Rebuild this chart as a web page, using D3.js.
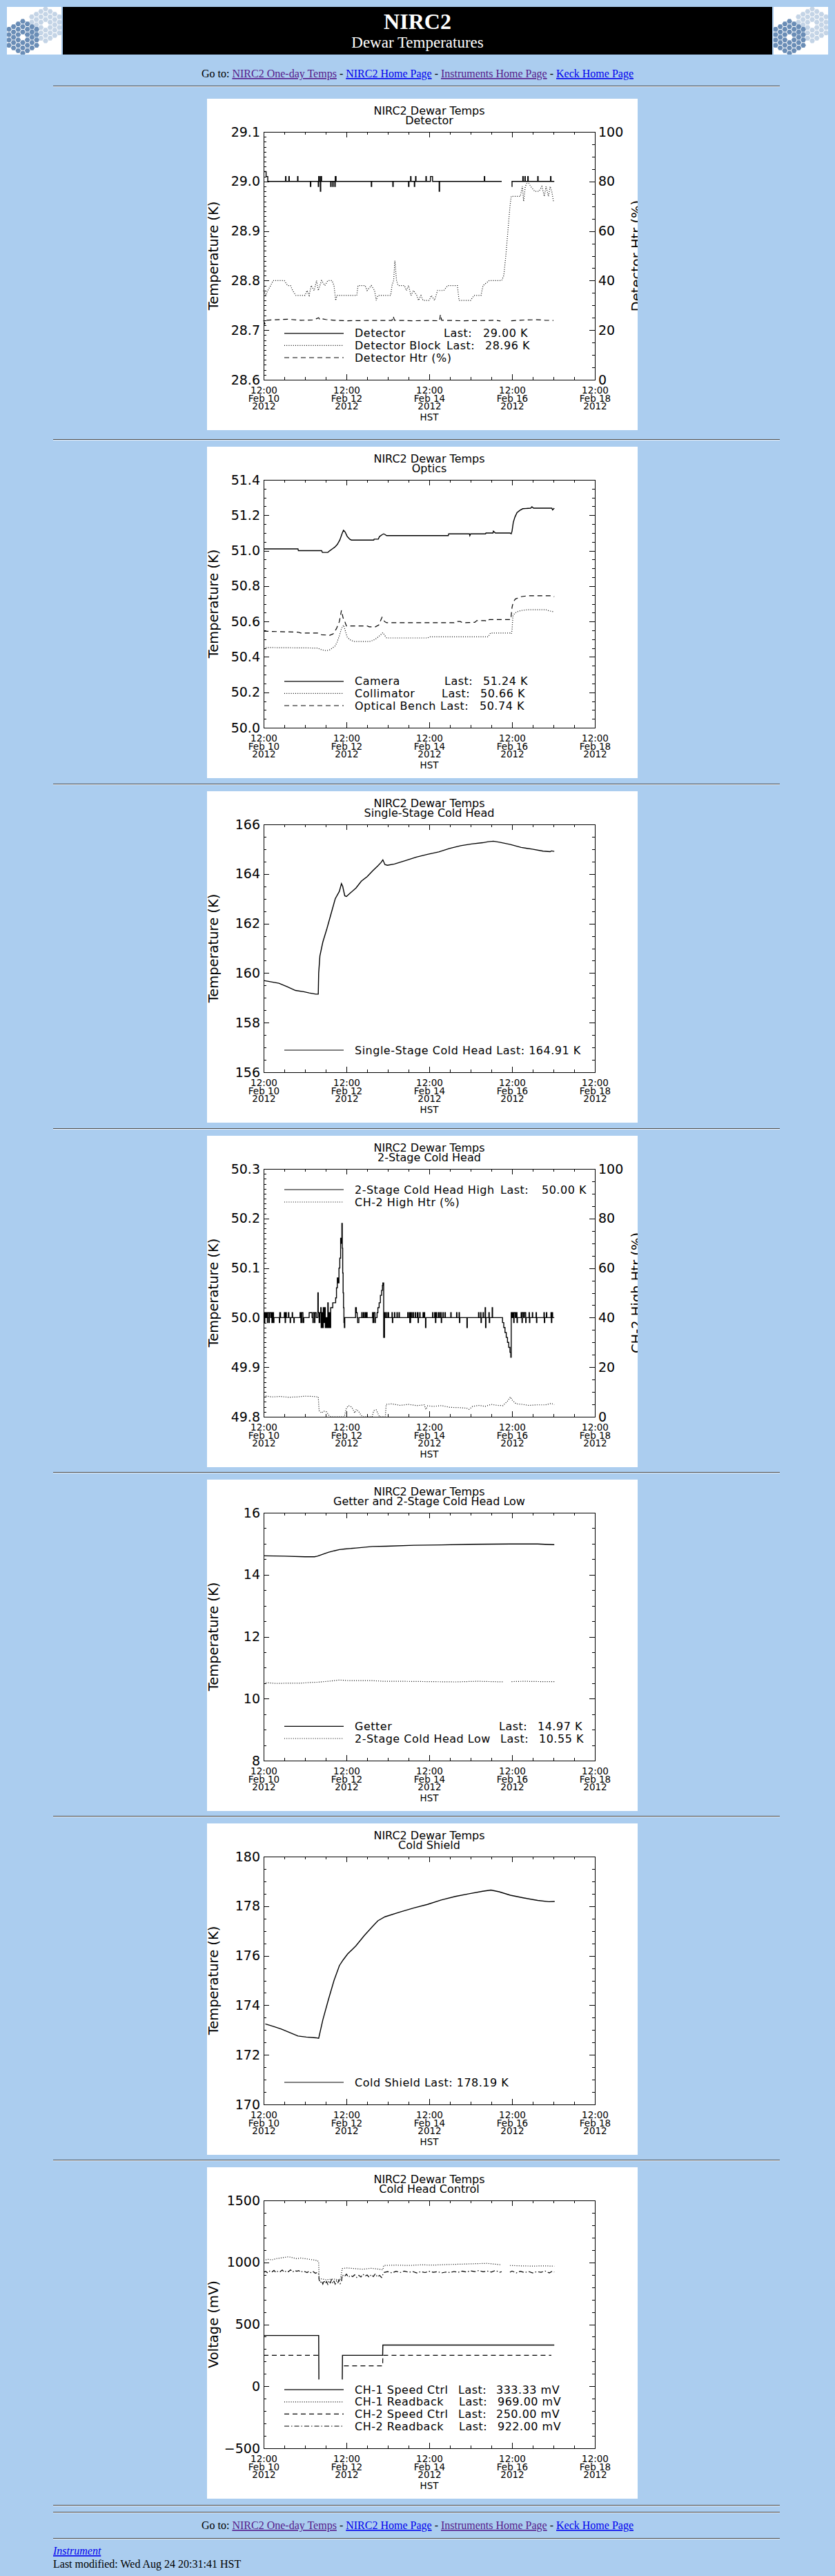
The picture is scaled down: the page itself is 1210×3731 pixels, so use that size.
<!DOCTYPE html>
<html><head><meta charset="utf-8">
<script src="https://cdn.jsdelivr.net/npm/d3@7"></script>
<style>
html,body{margin:0;padding:0;background:#abcdef;}
svg{display:block;}
</style></head><body>
<svg id="page" width="1210" height="3731"></svg>
<script>
// ---------------- DATA (time = days after 12:00 Feb 10 2012 HST) ----------------
const START = "2012-02-10T12:00:00Z";
const xMajorTicks = ["2012-02-10T12:00:00Z","2012-02-12T12:00:00Z","2012-02-14T12:00:00Z","2012-02-16T12:00:00Z","2012-02-18T12:00:00Z"];
const xAxisTitle = "HST";

const pageTitle = "NIRC2";
const pageSubtitle = "Dewar Temperatures";
const linkItems = ["NIRC2 One-day Temps","NIRC2 Home Page","Instruments Home Page","Keck Home Page"];
const linkVisited = [true,false,true,false];
const footerLink = "Instrument";
const footerModified = "Last modified: Wed Aug 24 20:31:41 HST";

const chartTitle = "NIRC2 Dewar Temps";
const panelTitles = ["Detector","Optics","Single-Stage Cold Head","2-Stage Cold Head","Getter and 2-Stage Cold Head Low","Cold Shield","Cold Head Control"];
const yLeftTitles = ["Temperature (K)","Temperature (K)","Temperature (K)","Temperature (K)","Temperature (K)","Temperature (K)","Voltage (mV)"];
const yRightTitles = ["Detector Htr (%)",null,null,"CH-2 High Htr (%)",null,null,null];
const yTicksP1 = [28.6,28.7,28.8,28.9,29.0,29.1];
const yTicksP2 = [50.0,50.2,50.4,50.6,50.8,51.0,51.2,51.4];
const yTicksP3 = [156,158,160,162,164,166];
const yTicksP4 = [49.8,49.9,50.0,50.1,50.2,50.3];
const yTicksP5 = [8,10,12,14,16];
const yTicksP6 = [170,172,174,176,178,180];
const yTicksP7 = [-500,0,500,1000,1500];
const yMinorDiv = [10,4,4,10,4,4,5];
const yDecimals = [1,1,0,1,0,0,0];
const yRightTicks = [0,20,40,60,80,100];
const yRightMinorDiv = 4;

// Panel 1 : Detector
const detectorT = [[0,29.02],[0.06,29.01],[0.1,29.0],[0.53,29.01],[0.54,29.0],[0.61,29.01],[0.62,29.0],[0.82,29.01],[0.83,29.0],[1.13,28.99],[1.14,29.0],[1.32,28.99],[1.33,29.01],[1.35,29.0],[1.37,28.98],[1.38,29.01],[1.4,29.0],[1.62,28.99],[1.63,29.0],[1.67,28.99],[1.68,29.0],[1.72,28.99],[1.73,29.01],[1.75,29.0],[2.6,28.99],[2.61,29.0],[3.12,28.99],[3.13,29.0],[3.5,28.99],[3.51,29.0],[3.55,29.01],[3.56,29.0],[3.64,28.99],[3.65,29.0],[3.67,29.01],[3.68,29.0],[3.92,29.01],[3.93,29.0],[4.03,29.01],[4.08,29.0],[4.24,28.98],[4.25,29.0],[5.33,29.01],[5.34,29.0],[5.75,29.0],[5.76,null],[5.99,28.99],[6.0,29.0],[6.26,29.01],[6.27,29.0],[6.31,29.01],[6.32,29.0],[6.38,29.01],[6.39,29.0],[6.62,29.01],[6.63,29.0],[6.93,29.01],[6.94,29.0],[7.02,29.0]];
const detectorBlockT = [[0,28.78],[0.05,28.77],[0.1,28.78],[0.17,28.79],[0.23,28.8],[0.5,28.8],[0.58,28.79],[0.65,28.79],[0.7,28.78],[0.78,28.77],[1.0,28.77],[1.05,28.78],[1.1,28.77],[1.15,28.79],[1.22,28.78],[1.28,28.8],[1.32,28.78],[1.36,28.79],[1.4,28.8],[1.48,28.79],[1.55,28.8],[1.65,28.8],[1.7,28.79],[1.74,28.76],[1.77,28.77],[2.25,28.77],[2.28,28.79],[2.45,28.79],[2.5,28.78],[2.6,28.79],[2.68,28.78],[2.72,28.76],[2.76,28.77],[3.07,28.77],[3.1,28.79],[3.14,28.8],[3.17,28.84],[3.21,28.8],[3.25,28.79],[3.4,28.79],[3.45,28.78],[3.5,28.79],[3.56,28.77],[3.62,28.78],[3.7,28.77],[3.74,28.76],[3.8,28.77],[3.85,28.76],[4.0,28.76],[4.05,28.77],[4.13,28.76],[4.2,28.78],[4.35,28.78],[4.45,28.79],[4.55,28.79],[4.68,28.79],[4.72,28.76],[4.85,28.76],[5.0,28.76],[5.08,28.77],[5.25,28.77],[5.3,28.79],[5.45,28.8],[5.6,28.8],[5.75,28.8],[5.8,28.81],[5.85,28.85],[5.9,28.9],[5.95,28.95],[5.98,28.97],[6.2,28.97],[6.25,28.99],[6.28,28.96],[6.32,28.99],[6.38,29.0],[6.45,28.99],[6.55,28.98],[6.65,28.98],[6.72,28.99],[6.78,28.97],[6.82,28.99],[6.88,28.97],[6.92,28.99],[6.96,28.98],[7.0,28.96]];
const detectorHtr = [[0,24.0],[0.03,22.5],[0.06,24.0],[0.3,24.2],[0.6,24.4],[0.9,24.0],[1.2,24.1],[1.33,25.0],[1.36,24.2],[1.4,24.6],[1.5,24.3],[1.7,24.0],[2.0,23.8],[2.5,23.9],[3.1,23.9],[3.13,25.6],[3.16,24.0],[3.6,23.8],[4.0,23.9],[4.25,23.8],[4.27,26.3],[4.3,24.0],[4.8,23.8],[5.3,23.9],[5.6,24.0],[5.72,23.7],[5.75,null],[5.98,23.8],[6.3,24.1],[6.6,24.2],[6.8,24.0],[7.0,23.9]];
const legendLabelsP1 = ["Detector","Detector Block","Detector Htr (%)"];
const legendLastP1 = ["29.00 K","28.96 K",null];

// Panel 2 : Optics
const cameraT = [[0,51.01],[0.83,51.01],[0.84,51.0],[1.4,51.0],[1.42,50.99],[1.55,50.99],[1.6,51.0],[1.66,51.01],[1.72,51.02],[1.78,51.035],[1.84,51.06],[1.9,51.1],[1.93,51.115],[1.97,51.105],[2.02,51.08],[2.08,51.065],[2.12,51.06],[2.66,51.06],[2.67,51.065],[2.77,51.065],[2.8,51.08],[2.86,51.09],[2.9,51.095],[2.94,51.09],[2.97,51.085],[4.46,51.085],[4.47,51.095],[4.97,51.095],[4.98,51.085],[5.0,51.095],[5.36,51.095],[5.37,51.1],[5.54,51.1],[5.55,51.11],[5.6,51.1],[5.95,51.1],[5.98,51.095],[6.0,51.11],[6.03,51.16],[6.07,51.19],[6.12,51.215],[6.19,51.228],[6.26,51.237],[6.45,51.24],[6.48,51.248],[6.52,51.24],[6.96,51.24],[6.98,51.23],[7.02,51.24]];
const collimatorT = [[0,50.453],[1.3,50.45],[1.4,50.44],[1.52,50.435],[1.6,50.44],[1.66,50.45],[1.72,50.46],[1.77,50.48],[1.83,50.52],[1.88,50.56],[1.93,50.58],[1.97,50.55],[2.02,50.51],[2.1,50.495],[2.18,50.487],[2.56,50.487],[2.62,50.492],[2.7,50.5],[2.78,50.515],[2.88,50.537],[2.93,50.52],[2.97,50.507],[3.96,50.507],[4.0,50.513],[5.42,50.513],[5.48,50.535],[5.95,50.535],[5.98,50.53],[6.0,50.55],[6.02,50.63],[6.06,50.645],[6.12,50.655],[6.22,50.662],[6.36,50.666],[6.82,50.666],[6.9,50.66],[7.0,50.655]];
const benchT = [[0,50.545],[0.83,50.54],[0.9,50.535],[1.3,50.535],[1.4,50.525],[1.6,50.522],[1.68,50.53],[1.76,50.56],[1.83,50.6],[1.88,50.663],[1.92,50.62],[1.96,50.6],[2.0,50.575],[2.5,50.575],[2.55,50.57],[2.7,50.57],[2.78,50.58],[2.86,50.624],[2.92,50.6],[2.97,50.593],[4.6,50.593],[4.65,50.6],[4.75,50.6],[4.8,50.593],[5.1,50.595],[5.15,50.605],[5.35,50.605],[5.4,50.6],[5.45,50.611],[5.97,50.611],[6.0,50.68],[6.03,50.71],[6.08,50.727],[6.22,50.74],[6.36,50.745],[6.98,50.745],[7.02,50.74]];
const legendLabelsP2 = ["Camera","Collimator","Optical Bench"];
const legendLastP2 = ["51.24 K","50.66 K","50.74 K"];

// Panel 3 : Single-stage cold head
const singleStageT = [[0,159.7],[0.37,159.59],[0.57,159.45],[0.77,159.3],[0.97,159.25],[1.1,159.2],[1.26,159.15],[1.32,159.15],[1.33,160.0],[1.36,160.7],[1.43,161.25],[1.53,161.8],[1.63,162.4],[1.73,163.0],[1.83,163.3],[1.88,163.61],[1.91,163.5],[1.96,163.12],[2.0,163.09],[2.1,163.24],[2.23,163.43],[2.36,163.71],[2.5,163.89],[2.63,164.12],[2.76,164.33],[2.84,164.47],[2.88,164.57],[2.93,164.38],[2.99,164.35],[3.16,164.4],[3.43,164.54],[3.69,164.68],[3.96,164.79],[4.23,164.89],[4.49,165.03],[4.76,165.14],[5.02,165.21],[5.29,165.26],[5.42,165.3],[5.55,165.32],[5.7,165.28],[5.96,165.19],[6.22,165.07],[6.49,165.0],[6.75,164.92],[6.92,164.9],[6.95,164.93],[7.02,164.91]];
const legendLabelsP3 = ["Single-Stage Cold Head"];
const legendLastP3 = ["164.91 K"];

// Panel 4 : 2-stage cold head
const twoStageHighT = [[0,50.01],[0.01,49.99],[0.03,50.01],[0.05,50.0],[0.07,50.01],[0.09,49.99],[0.1,50.01],[0.13,49.99],[0.14,50.01],[0.17,50.0],[0.19,50.01],[0.2,49.99],[0.22,50.01],[0.24,49.99],[0.25,50.0],[0.38,49.99],[0.39,50.01],[0.41,50.0],[0.5,50.01],[0.52,49.99],[0.53,50.01],[0.55,50.0],[0.6,50.01],[0.61,50.0],[0.64,49.99],[0.65,50.0],[0.69,50.01],[0.7,50.0],[0.73,49.99],[0.74,50.0],[0.88,50.01],[0.9,49.99],[0.92,50.01],[0.95,49.99],[0.97,50.0],[1.1,50.01],[1.17,50.0],[1.19,49.99],[1.2,50.01],[1.23,49.99],[1.24,50.01],[1.27,50.0],[1.31,50.05],[1.32,50.01],[1.34,49.99],[1.36,50.01],[1.38,50.02],[1.39,49.98],[1.41,50.01],[1.43,49.98],[1.44,50.02],[1.46,49.99],[1.47,50.02],[1.49,49.98],[1.51,50.0],[1.53,49.98],[1.55,50.03],[1.56,49.98],[1.58,50.01],[1.6,49.98],[1.62,50.02],[1.65,50.02],[1.67,50.03],[1.72,50.03],[1.74,50.04],[1.76,50.06],[1.78,50.08],[1.8,50.07],[1.82,50.1],[1.84,50.12],[1.86,50.16],[1.87,50.15],[1.89,50.19],[1.9,50.14],[1.91,50.09],[1.92,50.05],[1.93,50.02],[1.94,49.99],[1.95,49.98],[1.96,50.0],[2.22,50.02],[2.24,50.01],[2.26,50.0],[2.27,49.99],[2.3,50.0],[2.37,50.01],[2.38,50.0],[2.41,50.01],[2.42,50.0],[2.45,50.01],[2.47,50.0],[2.49,50.01],[2.5,50.0],[2.63,50.01],[2.64,49.99],[2.66,50.01],[2.69,49.99],[2.7,50.0],[2.74,50.01],[2.76,50.02],[2.79,50.03],[2.82,50.045],[2.85,50.055],[2.87,50.065],[2.88,50.07],[2.9,49.96],[2.92,50.01],[2.94,50.0],[2.97,50.01],[2.98,50.0],[3.01,50.01],[3.02,50.0],[3.1,50.01],[3.11,49.99],[3.12,50.0],[3.16,50.01],[3.17,50.0],[3.22,50.01],[3.23,50.0],[3.27,50.01],[3.28,50.0],[3.48,50.01],[3.49,50.0],[3.52,50.01],[3.53,49.99],[3.55,50.01],[3.57,50.0],[3.6,50.01],[3.62,50.0],[3.66,50.01],[3.67,50.0],[3.71,50.01],[3.73,49.99],[3.74,50.0],[3.77,50.01],[3.78,50.0],[3.85,50.01],[3.87,50.0],[3.88,50.01],[3.89,50.0],[3.91,49.98],[3.92,50.0],[4.08,50.01],[4.09,50.0],[4.13,50.01],[4.15,49.99],[4.16,50.01],[4.18,50.0],[4.22,50.01],[4.24,50.0],[4.27,50.01],[4.29,49.99],[4.3,50.0],[4.33,50.01],[4.34,50.0],[4.38,50.01],[4.39,50.0],[4.52,50.01],[4.53,50.0],[4.66,50.01],[4.67,50.0],[4.72,50.01],[4.73,49.99],[4.74,50.0],[4.91,49.98],[4.92,50.0],[5.19,50.01],[5.2,50.0],[5.24,50.01],[5.25,49.99],[5.26,50.0],[5.3,50.01],[5.31,50.0],[5.35,50.02],[5.36,49.98],[5.37,50.0],[5.44,50.01],[5.45,49.99],[5.46,50.0],[5.52,50.02],[5.53,50.0],[5.74,50.0],[5.77,49.99],[5.8,49.98],[5.83,49.97],[5.86,49.96],[5.89,49.95],[5.92,49.94],[5.95,49.93],[5.97,49.92],[5.98,50.01],[6.0,50.0],[6.02,50.01],[6.04,49.99],[6.05,50.01],[6.08,50.0],[6.1,50.01],[6.12,49.99],[6.13,50.0],[6.22,50.01],[6.24,49.99],[6.25,50.01],[6.28,50.0],[6.3,50.01],[6.33,49.99],[6.34,50.0],[6.41,50.01],[6.42,49.99],[6.43,50.0],[6.49,50.01],[6.5,50.0],[6.58,50.01],[6.59,49.99],[6.6,50.0],[6.77,50.01],[6.78,49.99],[6.79,50.0],[6.83,50.01],[6.84,50.0],[6.94,50.01],[6.95,49.99],[6.96,50.01],[6.98,50.0],[7.02,50.0]];
const ch2HighHtr = [[0,8.5],[0.2,8.0],[0.4,8.2],[0.6,7.9],[0.8,8.0],[1.0,8.3],[1.2,8.2],[1.32,8.0],[1.34,2.5],[1.4,1.5],[1.45,2.3],[1.52,2.0],[1.58,0.5],[1.62,0],[1.95,0],[2.0,3.5],[2.05,4.5],[2.12,4.0],[2.16,3.0],[2.2,1.5],[2.24,3.0],[2.3,2.0],[2.36,0.5],[2.4,0],[2.62,0],[2.66,2.5],[2.72,2.8],[2.77,1.0],[2.8,0],[2.94,0],[2.96,5.0],[3.1,5.2],[3.3,4.6],[3.5,5.0],[3.7,4.5],[3.88,4.8],[3.92,3.0],[3.96,4.4],[4.1,4.2],[4.3,4.5],[4.5,3.8],[4.7,3.7],[4.9,3.5],[4.96,3.0],[5.05,4.2],[5.2,4.6],[5.35,4.2],[5.5,5.0],[5.65,4.6],[5.78,4.5],[5.9,6.5],[5.96,8.0],[6.0,6.8],[6.1,5.2],[6.25,5.0],[6.4,4.6],[6.6,4.8],[6.8,4.8],[6.95,5.4],[7.02,4.9]];
const legendLabelsP4 = ["2-Stage Cold Head High","CH-2 High Htr (%)"];
const legendLastP4 = ["50.00 K",null];

// Panel 5 : Getter and 2-stage low
const getterT = [[0,14.61],[0.5,14.6],[1.0,14.58],[1.23,14.58],[1.3,14.6],[1.43,14.66],[1.56,14.72],[1.7,14.77],[1.83,14.81],[1.96,14.83],[2.23,14.86],[2.63,14.91],[2.96,14.92],[3.63,14.95],[4.29,14.96],[4.96,14.98],[5.96,14.99],[6.62,14.99],[6.8,14.98],[7.02,14.97]];
const twoStageLowT = [[0,10.52],[0.3,10.49],[0.6,10.5],[0.9,10.5],[1.1,10.52],[1.3,10.53],[1.56,10.56],[1.7,10.58],[1.83,10.6],[1.95,10.59],[2.1,10.58],[2.63,10.58],[2.9,10.56],[3.29,10.56],[3.96,10.55],[4.63,10.54],[5.16,10.56],[5.5,10.55],[5.8,10.54],[5.86,null],[5.99,10.55],[6.29,10.56],[6.7,10.55],[7.02,10.55]];
const legendLabelsP5 = ["Getter","2-Stage Cold Head Low"];
const legendLastP5 = ["14.97 K","10.55 K"];

// Panel 6 : Cold shield
const coldShieldT = [[0.04,173.25],[0.23,173.15],[0.43,173.04],[0.63,172.9],[0.83,172.76],[1.03,172.72],[1.26,172.69],[1.33,172.67],[1.43,173.41],[1.56,174.2],[1.7,175.0],[1.83,175.6],[1.92,175.83],[2.03,176.07],[2.23,176.4],[2.43,176.81],[2.63,177.18],[2.76,177.41],[2.93,177.57],[3.29,177.76],[3.63,177.93],[3.96,178.07],[4.29,178.25],[4.63,178.39],[4.96,178.5],[5.29,178.6],[5.49,178.65],[5.69,178.58],[5.96,178.44],[6.29,178.33],[6.62,178.23],[6.89,178.18],[7.03,178.19]];
const legendLabelsP6 = ["Cold Shield"];
const legendLastP6 = ["178.19 K"];

// Panel 7 : Cold head control (mV)
const ch1SpeedCtrl = [[0,410],[1.33,410],[1.335,55],[1.34,null],[1.9,55],[1.905,250],[2.875,250],[2.88,333],[7.02,333]];
const ch2SpeedCtrl = [[0,250],[1.33,250],[1.335,null],[1.94,165],[2.875,165],[2.88,250],[6.95,250]];
const ch1Readback = [[0,1015],[0.1,1025],[0.2,1020],[0.3,1030],[0.4,1035],[0.5,1040],[0.6,1045],[0.7,1038],[0.8,1030],[0.9,1035],[1.0,1030],[1.1,1025],[1.2,1020],[1.3,1015],[1.33,1000],[1.34,870],[1.5,860],[1.7,865],[1.85,858],[1.9,950],[2.0,955],[2.2,950],[2.4,945],[2.6,952],[2.8,945],[2.88,940],[2.9,975],[3.2,978],[3.5,975],[3.8,980],[4.1,978],[4.4,982],[4.7,985],[5.0,988],[5.2,990],[5.4,992],[5.6,985],[5.75,980],[5.8,null],[5.95,975],[6.2,972],[6.5,970],[6.8,972],[7.02,969]];
const ch2Readback = [[0,920],[0.05,928],[0.1,915],[0.15,930],[0.2,922],[0.25,935],[0.3,918],[0.35,930],[0.4,925],[0.45,938],[0.5,920],[0.55,932],[0.6,925],[0.65,940],[0.7,922],[0.75,935],[0.8,928],[0.85,933],[0.9,920],[0.95,930],[1.0,925],[1.05,918],[1.1,928],[1.15,915],[1.2,925],[1.25,912],[1.3,920],[1.33,905],[1.34,860],[1.37,835],[1.4,850],[1.43,825],[1.46,855],[1.49,830],[1.52,845],[1.55,822],[1.58,852],[1.61,835],[1.64,860],[1.67,830],[1.7,848],[1.73,825],[1.76,850],[1.79,832],[1.82,858],[1.85,828],[1.88,845],[1.9,900],[1.95,885],[2.0,905],[2.05,880],[2.1,895],[2.15,885],[2.2,900],[2.25,878],[2.3,895],[2.35,882],[2.4,905],[2.45,888],[2.5,898],[2.55,880],[2.6,902],[2.65,885],[2.7,908],[2.75,882],[2.8,895],[2.85,878],[2.9,918],[3.0,925],[3.1,915],[3.2,928],[3.3,918],[3.4,930],[3.5,920],[3.6,926],[3.7,915],[3.8,925],[3.9,918],[4.0,928],[4.1,920],[4.2,925],[4.3,915],[4.4,922],[4.5,918],[4.6,926],[4.7,920],[4.8,930],[4.9,922],[5.0,932],[5.1,925],[5.2,935],[5.3,924],[5.4,930],[5.5,922],[5.6,935],[5.7,920],[5.75,925],[5.8,null],[5.95,920],[6.0,930],[6.1,915],[6.2,928],[6.3,918],[6.4,926],[6.5,915],[6.6,925],[6.7,920],[6.8,930],[6.9,915],[6.97,928],[7.02,922]];
const legendLabelsP7 = ["CH-1 Speed Ctrl","CH-1 Readback","CH-2 Speed Ctrl","CH-2 Readback"];
const legendLastP7 = ["333.33 mV","969.00 mV","250.00 mV","922.00 mV"];

// ---------------- LAYOUT ----------------
const panelTops = [143,647,1146,1645,2143,2641,3139];
const hrYs = [124,636,1135,1634,2132,2630,3128,3628,3638,3676];
const PANEL_X = 300, PANEL_W = 624, PANEL_H = 480;
const PL = 82, PT = 48, PW = 480, PH = 359;
const FONT = '"DejaVu Sans", Verdana, sans-serif';
const SERIF = '"Liberation Serif","Times New Roman",serif';
const dashes = {solid:null, dotted:"1,2.2", dashed:"7,5", dashdot:"7,3,1.5,3"};

const t0 = new Date(START).getTime();
const toDate = d => new Date(t0 + d * 864e5);
const xMajor = xMajorTicks.map(s => new Date(s));
const x = d3.scaleUtc().domain([xMajor[0], xMajor[xMajor.length-1]]).range([0, PW]);
const xMinor = d3.utcHour.every(12).range(xMajor[0], xMajor[xMajor.length-1]).filter(d => !xMajor.some(m => +m === +d));

// lastX / valX: plot-relative x of "Last:" and value; null = inline after label
const panels = [
  {yTicks:yTicksP1, series:[
    {data:detectorT, style:"solid", step:true},
    {data:detectorBlockT, style:"dotted"},
    {data:detectorHtr, style:"dashed", right:true}],
   legend:{labels:legendLabelsP1, last:legendLastP1, styles:["solid","dotted","dashed"], pos:"bottom", lastX:[261,265,0], valX:[318,321,0]}},
  {yTicks:yTicksP2, series:[
    {data:cameraT, style:"solid"},
    {data:collimatorT, style:"dotted"},
    {data:benchT, style:"dashed"}],
   legend:{labels:legendLabelsP2, last:legendLastP2, styles:["solid","dotted","dashed"], pos:"bottom", lastX:[262,258,256], valX:[318,314,313]}},
  {yTicks:yTicksP3, series:[{data:singleStageT, style:"solid"}],
   legend:{labels:legendLabelsP3, last:legendLastP3, styles:["solid"], pos:"bottom", lastX:[null], valX:[null]}},
  {yTicks:yTicksP4, series:[
    {data:twoStageHighT, style:"solid", step:true},
    {data:ch2HighHtr, style:"dotted", right:true}],
   legend:{labels:legendLabelsP4, last:legendLastP4, styles:["solid","dotted"], pos:"top", lastX:[343,0], valX:[403,0]}},
  {yTicks:yTicksP5, series:[
    {data:getterT, style:"solid"},
    {data:twoStageLowT, style:"dotted"}],
   legend:{labels:legendLabelsP5, last:legendLastP5, styles:["solid","dotted"], pos:"bottom", lastX:[341,343], valX:[397,399]}},
  {yTicks:yTicksP6, series:[{data:coldShieldT, style:"solid"}],
   legend:{labels:legendLabelsP6, last:legendLastP6, styles:["solid"], pos:"bottom", lastX:[null], valX:[null]}},
  {yTicks:yTicksP7, series:[
    {data:ch1SpeedCtrl, style:"solid"},
    {data:ch1Readback, style:"dotted"},
    {data:ch2SpeedCtrl, style:"dashed"},
    {data:ch2Readback, style:"dashdot"}],
   legend:{labels:legendLabelsP7, last:legendLastP7, styles:["solid","dotted","dashed","dashdot"], pos:"bottom", lastX:[282,283,282,283], valX:[337,339,337,339]}}
];

const svg = d3.select("#page");

// ---------------- HEADER ----------------
function drawLogo(x0, idx){
  const g = svg.append("g").attr("transform", `translate(${x0},10)`);
  g.append("clipPath").attr("id","logoclip"+idx).append("rect").attr("width",79).attr("height",69);
  g.append("rect").attr("width",79).attr("height",69).attr("fill","#fff");
  const gg = g.append("g").attr("clip-path", `url(#logoclip${idx})`);
  const cells = [];
  for (let q=-3;q<=3;q++) for (let r=-3;r<=3;r++) { if (Math.abs(q+r)<=3 && !(q===0&&r===0)) cells.push([q,r]); }
  const s = 4.45, hr = 3.9;
  const hexPath = d3.range(6).map(k => [hr*Math.cos(Math.PI/3*k), hr*Math.sin(Math.PI/3*k)]);
  const hexD = "M" + hexPath.map(p=>p.join(",")).join("L") + "Z";
  [[56,26,"#c4d4e6"],[23,44,"#6a8db6"]].forEach(([cx,cy,col]) => {
    gg.selectAll(null).data(cells).enter().append("path")
      .attr("d", hexD)
      .attr("transform", d => `translate(${cx + s*1.5*d[0]},${cy + s*Math.sqrt(3)*(d[1]+d[0]/2)})`)
      .attr("fill", col);
  });
}
svg.append("rect").attr("x",91).attr("y",10).attr("width",1028).attr("height",69).attr("fill","#000");
drawLogo(10,0); drawLogo(1121,1);
svg.append("text").attr("x",605).attr("y",42).attr("text-anchor","middle").attr("font-family",SERIF)
  .attr("font-weight","bold").attr("font-size",32).attr("fill","#fff").text(pageTitle);
svg.append("text").attr("x",605).attr("y",69).attr("text-anchor","middle").attr("font-family",SERIF)
  .attr("font-size",23).attr("fill","#fff").text(pageSubtitle);

function drawLinks(yb){
  const t = svg.append("text").attr("x",605).attr("y",yb).attr("text-anchor","middle")
    .attr("font-family",SERIF).attr("font-size",16).style("white-space","pre");
  t.append("tspan").attr("fill","#000").text("Go to: ");
  linkItems.forEach((s,i) => {
    if (i) t.append("tspan").attr("fill","#000").text(" - ");
    t.append("tspan").attr("fill", linkVisited[i] ? "#551a8b" : "#0000ee").style("text-decoration","underline").text(s);
  });
}
drawLinks(112);
hrYs.forEach(y => {
  svg.append("line").attr("x1",77).attr("x2",1130).attr("y1",y+0.5).attr("y2",y+0.5).attr("stroke","#4a4a4a");
  svg.append("line").attr("x1",77).attr("x2",1130).attr("y1",y+1.5).attr("y2",y+1.5).attr("stroke","#e8eef5");
});
drawLinks(3663);
svg.append("text").attr("x",77).attr("y",3700).attr("font-family",SERIF).attr("font-size",16).attr("font-style","italic")
  .attr("fill","#0000ee").style("text-decoration","underline").text(footerLink);
svg.append("text").attr("x",77).attr("y",3719).attr("font-family",SERIF).attr("font-size",16).attr("fill","#000").text(footerModified);

// ---------------- PANELS ----------------
function minorVals(ticks, div){
  const out = [];
  for (let i=0;i<ticks.length-1;i++) for (let k=1;k<div;k++) out.push(ticks[i] + (ticks[i+1]-ticks[i])*k/div);
  return out;
}
function styleAxis(g, size){
  g.select(".domain").remove();
  g.selectAll("line").attr("stroke","#000").attr("shape-rendering","crispEdges");
  g.attr("font-family", FONT).attr("font-size", size);
  g.selectAll("text").attr("fill","#000");
}

panels.forEach((p, i) => {
  const top = panelTops[i];
  const g = svg.append("g").attr("transform", `translate(${PANEL_X},${top})`);
  g.append("clipPath").attr("id","pclip"+i).append("rect").attr("width",PANEL_W).attr("height",PANEL_H);
  g.append("rect").attr("width",PANEL_W).attr("height",PANEL_H).attr("fill","#fff");
  const c = g.append("g").attr("clip-path", `url(#pclip${i})`);
  const pg = c.append("g").attr("transform", `translate(${PL},${PT})`);

  const dom = [p.yTicks[0], p.yTicks[p.yTicks.length-1]];
  const y = d3.scaleLinear().domain(dom).range([PH,0]);
  const y2 = d3.scaleLinear().domain([yRightTicks[0], yRightTicks[yRightTicks.length-1]]).range([PH,0]);
  const fmt = d3.format("." + yDecimals[i] + "f");
  const hasRight = !!yRightTitles[i];

  // titles
  pg.append("text").attr("x",PW/2).attr("y",-25).attr("text-anchor","middle").attr("font-family",FONT).attr("font-size",16).text(chartTitle);
  pg.append("text").attr("x",PW/2).attr("y",-11).attr("text-anchor","middle").attr("font-family",FONT).attr("font-size",16).text(panelTitles[i]);

  // x axes
  const xb = pg.append("g").attr("transform",`translate(0,${PH})`)
    .call(d3.axisBottom(x).tickValues(xMajor).tickSize(-8).tickFormat(""));
  styleAxis(xb, 13.5);
  const fH = d3.utcFormat("%H:%M"), fMD = d3.utcFormat("%b %d"), fY = d3.utcFormat("%Y");
  xb.selectAll(".tick text").each(function(d){
    const t = d3.select(this).attr("y",null).attr("dy",null);
    [[fH,20],[fMD,31.7],[fY,43.3]].forEach(([f,yy]) => t.append("tspan").attr("x",0).attr("y",yy).text(f(d)));
  });
  styleAxis(pg.append("g").attr("transform",`translate(0,${PH})`).call(d3.axisBottom(x).tickValues(xMinor).tickSize(-4).tickFormat("")), 10);
  styleAxis(pg.append("g").call(d3.axisTop(x).tickValues(xMajor).tickSize(-8).tickFormat("")), 10);
  styleAxis(pg.append("g").call(d3.axisTop(x).tickValues(xMinor).tickSize(-4).tickFormat("")), 10);
  pg.append("text").attr("x",PW/2).attr("y",PH+59).attr("text-anchor","middle").attr("font-family",FONT).attr("font-size",13.5).text(xAxisTitle);

  // y axes
  styleAxis(pg.append("g").call(d3.axisLeft(y).tickValues(p.yTicks).tickSize(-8).tickPadding(5).tickFormat(fmt)), 19);
  styleAxis(pg.append("g").call(d3.axisLeft(y).tickValues(minorVals(p.yTicks, yMinorDiv[i])).tickSize(-4).tickFormat("")), 10);
  if (hasRight) {
    styleAxis(pg.append("g").attr("transform",`translate(${PW},0)`).call(d3.axisRight(y2).tickValues(yRightTicks).tickSize(-8).tickPadding(5).tickFormat(d3.format("d"))), 19);
    styleAxis(pg.append("g").attr("transform",`translate(${PW},0)`).call(d3.axisRight(y2).tickValues(minorVals(yRightTicks, yRightMinorDiv)).tickSize(-4).tickFormat("")), 10);
    pg.append("text").attr("transform",`translate(${PW+67},${PH/2}) rotate(-90)`).attr("text-anchor","middle")
      .attr("font-family",FONT).attr("font-size",19.5).text(yRightTitles[i]);
  } else {
    styleAxis(pg.append("g").attr("transform",`translate(${PW},0)`).call(d3.axisRight(y).tickValues(p.yTicks).tickSize(-8).tickFormat("")), 10);
    styleAxis(pg.append("g").attr("transform",`translate(${PW},0)`).call(d3.axisRight(y).tickValues(minorVals(p.yTicks, yMinorDiv[i])).tickSize(-4).tickFormat("")), 10);
  }
  pg.append("text").attr("transform",`translate(-66,${PH/2}) rotate(-90)`).attr("text-anchor","middle")
    .attr("font-family",FONT).attr("font-size",19.5).text(yLeftTitles[i]);

  // frame
  pg.append("rect").attr("width",PW).attr("height",PH).attr("fill","none").attr("stroke","#000").attr("shape-rendering","crispEdges");

  // series
  p.series.forEach(s => {
    const ys = s.right ? y2 : y;
    const line = d3.line().defined(d => d[1] != null)
      .x(d => x(toDate(d[0]))).y(d => ys(d[1]))
      .curve(s.step ? d3.curveStepAfter : d3.curveLinear);
    pg.append("path").datum(s.data).attr("d", line).attr("fill","none").attr("stroke","#000")
      .attr("stroke-width", s.style === "solid" ? 1.4 : 1.2)
      .attr("stroke-dasharray", dashes[s.style]);
  });

  // legend
  const L = p.legend, n = L.labels.length;
  L.labels.forEach((lab, k) => {
    const cy = L.pos === "top" ? 30 + 18*k : PH - 32 - 17.6*(n-1-k);
    pg.append("line").attr("x1",30).attr("x2",116).attr("y1",cy).attr("y2",cy).attr("stroke","#000")
      .attr("stroke-width",1.2).attr("stroke-dasharray", dashes[L.styles[k]]);
    const ty = cy + 5.5;
    const txt = pg.append("text").attr("x",132).attr("y",ty).attr("font-family",FONT).attr("font-size",16)
      .attr("letter-spacing",0.5).style("white-space","pre");
    if (L.last[k] && L.lastX[k] == null) {
      txt.text(lab + " Last: " + L.last[k]);
    } else {
      txt.text(lab);
      if (L.last[k]) {
        pg.append("text").attr("x",L.lastX[k]).attr("y",ty).attr("font-family",FONT).attr("font-size",16).attr("letter-spacing",0.5).text("Last:");
        pg.append("text").attr("x",L.valX[k]).attr("y",ty).attr("font-family",FONT).attr("font-size",16).attr("letter-spacing",0.5).text(L.last[k]);
      }
    }
  });
});
</script></body></html>
